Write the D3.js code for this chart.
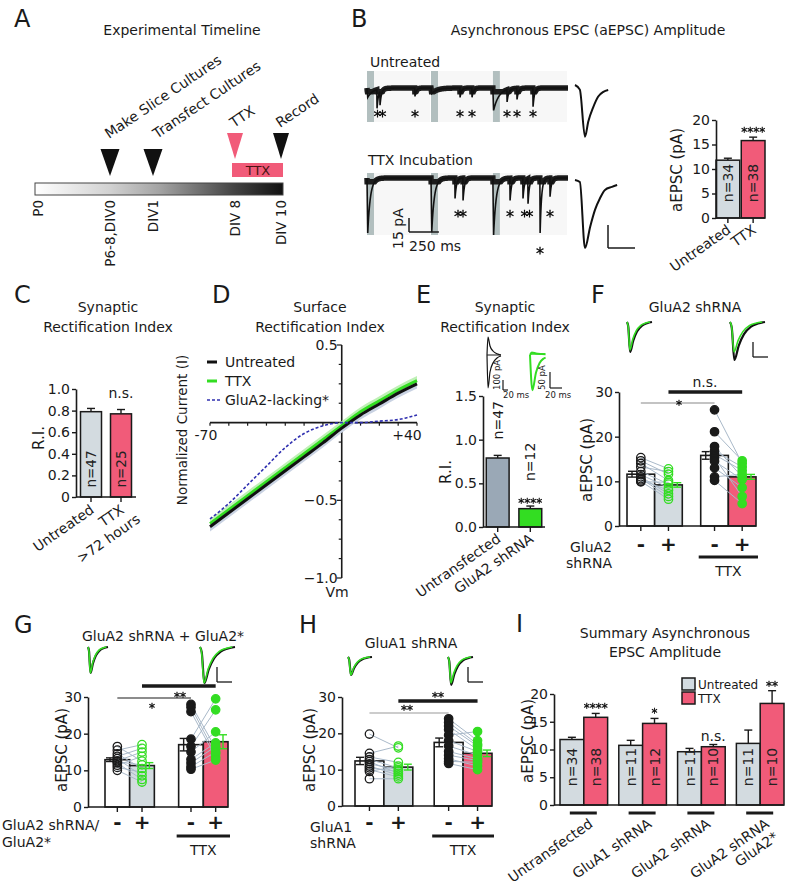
<!DOCTYPE html>
<html>
<head>
<meta charset="utf-8">
<script src="https://cdn.jsdelivr.net/npm/d3@7"></script>
<style>
  body { margin: 0; background: #fff; }
  svg { display: block; font-family: "DejaVu Sans", sans-serif; }
</style>
</head>
<body>
<svg width="790" height="888"></svg>
<script>
// ---- A: timeline ----
const timelineLabels = ['P0', 'P6-8,DIV0', 'DIV1', 'DIV 8', 'DIV 10'];
const timelineDays = [-7, 0, 1, 8, 10];
const timelineEvents = ['Make Slice Cultures', 'Transfect Cultures', 'TTX', 'Record'];
const timelineEventDays = [0, 1, 8, 10];

// ---- B: example traces (ms, pA) ----
const sweepOnsets = [0, 535, 1052];
const untreatedStimAmp = [10, 6, 24];
const ttxStimAmp = [59, 58, 61];
const untreatedEvents = [[84, 20], [109, 15], [401, 9], [778, 10], [878, 10], [1171, 13], [1254, 12], [1388, 20]];
const ttxEvents = [[736, 22], [803, 24], [1196, 24], [1304, 22], [1346, 27], [1447, 59], [1530, 20]];
const untreatedAvg = [[0, 0], [1.8, -2], [3.7, -22.5], [4.9, -16], [6.8, -9.5], [8.6, -5], [10.5, -3], [12.3, -2.2]];
const ttxAvg = [[0, 0], [1.8, -0.9], [3.7, -29.6], [5.6, -20.4], [7.4, -13], [9.3, -7.8], [11.1, -4.3], [13.7, -3], [15.6, -2.2]];
const bGroups = [['Untreated'], ['TTX']];
const bMeans = [11.8, 15.8];
const bSem = [0.4, 0.7];
const bN = ['n=34', 'n=38'];

// ---- C ----
const cGroups = [['Untreated'], ['TTX', '>72 hours']];
const cMeans = [0.79, 0.77];
const cSem = [0.03, 0.04];
const cN = ['n=47', 'n=25'];

// ---- D: I-V curves ----
const dVm = [-70, -60, -50, -40, -30, -20, -10, 0, 10, 20, 30, 40];
const dUntreated = [-0.67, -0.58, -0.49, -0.40, -0.31, -0.22, -0.13, -0.035, 0.05, 0.12, 0.19, 0.25];
const dTTX = [-0.65, -0.56, -0.47, -0.38, -0.29, -0.20, -0.11, -0.02, 0.07, 0.14, 0.21, 0.27];
const dLacking = [-0.62, -0.52, -0.40, -0.28, -0.16, -0.07, -0.02, 0, 0, 0.01, 0.02, 0.05];
const dLegend = ['Untreated', 'TTX', 'GluA2-lacking*'];

// ---- E ----
const eGroups = [['Untransfected'], ['GluA2 shRNA']];
const eMeans = [0.79, 0.21];
const eSem = [0.03, 0.03];
const eN = ['n=47', 'n=12'];
const eBlackIn = [[0, 0], [4, -330], [12, -170], [24, -80], [40, -30], [56, -10]];
const eBlackOut = [[0, 0], [4, 180], [12, 90], [24, 40], [40, 12], [56, 0]];
const eGreenIn = [[0, 0], [4, -110], [10, -55], [16, -25], [22, -12], [26, -8]];
const eGreenOut = [[0, 0], [3, 8], [10, 5], [20, 3], [26, 2]];

// ---- F / G / H: paired aEPSC ----
const epscShape = [[0, 0], [1, -0.15], [2.5, -1], [5, -0.62], [8, -0.32], [12, -0.12], [16, -0.04], [20, 0]];
const fMeans = [11.6, 9.2, 15.8, 11.0];
const fSem = [0.65, 0.5, 0.85, 0.55];
const fPairsUntreated = [[15.3, 12.8], [14.6, 11.6], [14.0, 10.2], [13.2, 12.2], [12.2, 9.4], [11.5, 8.6], [11.0, 7.2], [10.6, 6.6], [10.3, 8.0], [10.0, 6.0], [9.9, 9.8]];
const fPairsTTX = [[26.0, 14.0], [21.1, 14.6], [17.8, 11.0], [16.8, 13.2], [16.0, 12.4], [15.3, 6.6], [14.5, 10.4], [13.0, 8.6], [11.0, 11.6], [10.2, 5.0]];
const fSig = [['*', 0, 2], ['n.s.', 1, 3]];
const fInsetAmps = [[30, 28], [38, 30]];

const gMeans = [12.9, 11.3, 17.0, 17.8];
const gSem = [0.5, 0.8, 1.7, 1.9];
const gPairsUntreated = [[16.5, 12.5], [15.5, 17.0], [14.5, 10.5], [13.8, 16.0], [13.2, 8.5], [12.6, 15.0], [12.3, 11.5], [12.0, 7.5], [11.4, 13.8], [10.8, 9.5], [10.0, 6.8]];
const gPairsTTX = [[28.0, 16.0], [27.2, 14.5], [26.0, 13.5], [18.5, 29.5], [16.5, 26.5], [15.0, 20.5], [13.0, 17.5], [12.0, 16.5], [11.0, 15.0], [10.3, 12.8]];
const gSig = [['**', 1, 3], ['*', 0, 2]];
const gInsetAmps = [[26, 26], [36, 36]];

const hMeans = [12.4, 10.7, 17.5, 14.5];
const hSem = [1.0, 0.8, 1.2, 0.9];
const hPairsUntreated = [[19.8, 16.0], [14.5, 16.5], [13.5, 12.0], [12.8, 10.5], [12.2, 9.0], [11.6, 10.0], [11.0, 8.5], [10.5, 9.5], [10.0, 8.0], [9.5, 11.0], [7.5, 7.5]];
const hPairsTTX = [[24, 18], [23, 17], [22, 16.5], [21, 15.5], [19.5, 20.5], [18, 15], [16.5, 14], [15, 13], [14, 12.5], [13, 11], [12.3, 12], [11.7, 10]];
const hSig = [['**', 1, 3], ['**', 0, 2]];
const hInsetAmps = [[18, 18], [28, 26]];

// ---- I: summary ----
const iGroups = [['Untransfected'], ['GluA1 shRNA'], ['GluA2 shRNA'], ['GluA2 shRNA', 'GluA2*']];
const iUntreated = [11.8, 10.75, 9.6, 11.1];
const iTTX = [15.8, 14.7, 10.5, 18.3];
const iUntreatedSem = [0.4, 0.9, 0.6, 2.4];
const iTTXSem = [0.7, 0.9, 0.4, 2.3];
const iNUntreated = ['n=34', 'n=11', 'n=11', 'n=11'];
const iNTTX = ['n=38', 'n=12', 'n=10', 'n=10'];
const iSig = ['****', '*', 'n.s.', '**'];
const iLegend = ['Untreated', 'TTX'];

// ---- styles ----
const INK = '#1a1a1a';
const RED = '#f15b79';
const GRAY = '#d3dbe0';
const GREEN = '#33dd22';
const SLATE = '#a9b9c9';
const FONT = '"DejaVu Sans", sans-serif';

const svg = d3.select('svg');
const defs = svg.append('defs');
// identity filter: renders the asterisks off-screen in plain grey-scale
defs.append('filter').attr('id', 'flat').append('feOffset').attr('dx', 0).attr('dy', 0);

function txt(x, y, s, o = {}) {
  const t = svg.append('text')
    .attr('x', x).attr('y', y)
    .attr('font-size', o.size || 13.5)
    .attr('text-anchor', o.anchor || 'start')
    .attr('fill', o.fill || INK)
    .text(s);
  if (o.bold) t.attr('font-weight', 'bold');
  if (o.dy) t.attr('dy', o.dy);
  if (o.rot) t.attr('transform', `rotate(${o.rot},${x},${y})`);
  return t;
}

function ln(x1, y1, x2, y2, o = {}) {
  return svg.append('line')
    .attr('x1', x1).attr('y1', y1).attr('x2', x2).attr('y2', y2)
    .attr('stroke', o.stroke || INK).attr('stroke-width', o.w || 1.5);
}

function rotLabel(x, y, lines, o = {}) {
  const g = svg.append('g').attr('transform', `translate(${x},${y}) rotate(${o.rot || -35})`);
  lines.forEach((s, i) => {
    g.append('text')
      .attr('x', i ? (o.dx2 || 0) : 0).attr('y', i * (o.lh || 15))
      .attr('text-anchor', 'end').attr('font-size', o.size || 13.5)
      .attr('fill', INK).text(s);
  });
}

function leftAxis(x, y, ticks, fmt, size) {
  const g = svg.append('g')
    .attr('transform', `translate(${x},0)`)
    .call(d3.axisLeft(y).tickValues(ticks).tickFormat(fmt).tickSize(4).tickSizeOuter(0).tickPadding(2));
  g.attr('font-family', FONT).attr('font-size', size || 14);
  g.select('.domain').attr('stroke', INK).attr('stroke-width', 1.6);
  g.selectAll('.tick line').attr('stroke', INK).attr('stroke-width', 1.4);
  g.selectAll('.tick text').attr('fill', INK);
  return g;
}

function errBar(x, y0, y1, color) {
  ln(x, y0, x, y1, { stroke: color, w: 1.4 });
  ln(x - 4, y1, x + 4, y1, { stroke: color, w: 1.4 });
}

function stars(x, yCenter, s, size = 12, spacing = 0) {
  const t = txt(x, yCenter + size * 0.58, s, { size, anchor: 'middle', fill: '#000' })
    .attr('stroke', '#000').attr('stroke-width', 0.3).attr('filter', 'url(#flat)');
  if (spacing) t.attr('letter-spacing', spacing);
  return t;
}

// simple two-bar chart (B, C, E)
function simpleBars(o) {
  const x = d3.scaleBand().domain(d3.range(o.means.length)).range([o.x0, o.x1])
    .paddingInner(o.pi).paddingOuter(o.po);
  const y = o.y;
  const bw = x.bandwidth();
  o.means.forEach((m, i) => {
    const cx = x(i) + bw / 2;
    errBar(cx, y(m), y(m + o.sems[i]), INK);
    svg.append('rect')
      .attr('x', x(i)).attr('y', y(m)).attr('width', bw).attr('height', y(0) - y(m))
      .attr('fill', o.fills[i]).attr('stroke', INK).attr('stroke-width', 1.5);
    ln(cx, y(0), cx, y(0) + 5, { w: 1.4 });
  });
  ln(o.axisX, y(0), o.x1 + (o.tail || 0), y(0), { w: 1.6 });
  leftAxis(o.axisX, y, o.ticks, o.fmt);
  return x;
}

// ======== Panel letters ========
[['A', 14, 27], ['B', 351, 27], ['C', 14, 303], ['D', 212, 303], ['E', 416, 303],
 ['F', 591, 303], ['G', 14, 633], ['H', 299, 633], ['I', 516, 632]]
  .forEach(([l, x, y]) => txt(x, y, l, { size: 24 }));

// ======== A ========
txt(182, 35, 'Experimental Timeline', { anchor: 'middle', size: 14 });
const tlX = d3.scaleLinear().domain(timelineDays).range([38, 110, 153, 235, 281]);
const grad = defs.append('linearGradient').attr('id', 'tlGrad');
[[0, '#ffffff'], [0.3, '#d2d2d2'], [0.5, '#a4a4a4'], [0.8, '#444444'], [1, '#111111']]
  .forEach(([off, c]) => grad.append('stop').attr('offset', off).attr('stop-color', c));
svg.append('rect').attr('x', 35).attr('y', 183).attr('width', 248).attr('height', 12)
  .attr('fill', 'url(#tlGrad)').attr('stroke', '#444').attr('stroke-width', 1);
timelineLabels.forEach((l, i) => {
  txt(tlX(timelineDays[i]) + 5, 200, l, { anchor: 'end', rot: -90, size: 13.5 });
});
svg.append('rect').attr('x', tlX(8) - 3).attr('y', 163).attr('width', tlX(10) - tlX(8) + 5).attr('height', 14)
  .attr('fill', RED);
txt((tlX(8) + tlX(10)) / 2, 175, 'TTX', { anchor: 'middle', fill: '#4a1414', size: 13 });
timelineEvents.forEach((l, i) => {
  const d = timelineEventDays[i];
  const cx = tlX(d);
  const late = d >= 8;
  const top = late ? 133 : 149;
  const w = late ? 16 : 19, h = late ? 26 : 27;
  svg.append('path')
    .attr('d', `M${cx - w / 2},${top}L${cx + w / 2},${top}L${cx},${top + h}Z`)
    .attr('fill', l === 'TTX' ? RED : '#111');
  txt(cx - 1 + (i === 1 ? 5 : 0), top - (late ? 5 : 10), l, { rot: -34, size: 14 });
});

// ======== B ========
txt(588, 35, 'Asynchronous EPSC (aEPSC) Amplitude', { anchor: 'middle', size: 14 });
txt(370, 67, 'Untreated', { size: 14 });
txt(368, 165, 'TTX Incubation', { size: 14 });

const tB = d3.scaleLinear().domain([0, 1680]).range([367, 568]);
function kernel(dt, rise, decay) {
  if (dt < 0) return 0;
  return dt < rise ? dt / rise : Math.exp(-(dt - rise) / decay);
}
function buildTrace(stimAmp, events, stimDecay) {
  const pts = [];
  for (let t = 0; t <= 1680; t += 1) {
    let v = 0;
    sweepOnsets.forEach((s, i) => { v -= stimAmp[i] * kernel(t - s, 6, stimDecay); });
    events.forEach(([te, a]) => { v -= a * kernel(t - te + 2, 2, 12); });
    pts.push([t, v]);
  }
  return pts;
}
function drawTrace(base, stimAmp, events, stimDecay, barTop, barBot, starMin) {
  const y = d3.scaleLinear().domain([0, -60]).range([base, base + 56]);
  sweepOnsets.forEach((s, i) => {
    const end = i < sweepOnsets.length - 1 ? sweepOnsets[i + 1] : 1680;
    svg.append('rect').attr('x', tB(s)).attr('y', barTop).attr('width', tB(end) - tB(s) - 1).attr('height', barBot - barTop)
      .attr('fill', '#f7f7f7');
    svg.append('rect').attr('x', tB(s)).attr('y', barTop).attr('width', 7).attr('height', barBot - barTop)
      .attr('fill', '#b2bfbf');
  });
  const pts = buildTrace(stimAmp, events, stimDecay);
  const line = d3.line().x(d => tB(d[0])).y(d => y(d[1]));
  svg.append('path').attr('d', line(pts.map(([t, v]) => [t, Math.max(v, -4)])))
    .attr('fill', 'none').attr('stroke', '#1c1c1c').attr('stroke-width', 5.5);
  svg.append('path').attr('d', line(pts))
    .attr('fill', 'none').attr('stroke', '#111').attr('stroke-width', 1.6);
  // group asterisks of events that sit close together
  const groups = [];
  events.forEach(([te, a]) => {
    const depth = y(-a) - base;
    const yc = base + (depth > 40 ? depth + 17 : starMin);
    const last = groups[groups.length - 1];
    if (last && tB(te) - last.x1 < 9 && last.yc === yc) { last.n += 1; last.x1 = tB(te); }
    else groups.push({ x0: tB(te), x1: tB(te), yc, n: 1 });
  });
  groups.forEach(g => stars((g.x0 + g.x1) / 2, g.yc, '*'.repeat(g.n), 16, g.n > 1 ? -3 : 0));
}
drawTrace(88, untreatedStimAmp, untreatedEvents, 45, 71, 122, 25);
drawTrace(178, ttxStimAmp, ttxEvents, 22, 173, 235, 35);

// scale bar 15 pA / 250 ms
const pApx = 56 / 60;
ln(409, 232 - 15 * pApx, 409, 232);
ln(409, 232, tB(250) - tB(0) + 409, 232);
txt(403, 249, '15 pA', { rot: -90, size: 14 });
txt(409, 251, '250 ms', { size: 14 });

// averages
const avgT = d3.scaleLinear().domain([0, 10]).range([0, 27]);
const avgA = d3.scaleLinear().domain([0, 10]).range([0, 23]);
[[untreatedAvg, 85], [ttxAvg, 180]].forEach(([data, base]) => {
  svg.append('path')
    .attr('d', d3.line().curve(d3.curveMonotoneX).x(d => 575 + avgT(d[0])).y(d => base - avgA(d[1]))(data))
    .attr('fill', 'none').attr('stroke', '#111').attr('stroke-width', 2);
});
ln(608, 248 - avgA(10), 608, 248);
ln(608, 248, 608 + avgT(10), 248);

// bar chart
const bY = d3.scaleLinear().domain([0, 20]).range([218, 120]);
const bX = simpleBars({ x0: 716, x1: 765, pi: 0.06, po: 0, axisX: 716, y: bY, means: bMeans, sems: bSem,
  fills: [GRAY, RED], ticks: [0, 5, 10, 15, 20], fmt: d3.format('d') });
bN.forEach((n, i) => txt(bX(i) + bX.bandwidth() / 2, 183, n, { rot: -90, anchor: 'middle', dy: '0.36em', size: 14, fill: '#222' }));
stars(bX(1) + bX.bandwidth() / 2, bY(bMeans[1] + bSem[1]) - 8, '****');
txt(677, 170, 'aEPSC (pA)', { rot: -90, anchor: 'middle', dy: '0.36em', size: 15 });
bGroups.forEach((g, i) => rotLabel(bX(i) + bX.bandwidth() / 2 + 4, 232, g, { size: 14 }));

// ======== C ========
txt(108, 312, 'Synaptic', { anchor: 'middle', size: 14 });
txt(108, 332, 'Rectification Index', { anchor: 'middle', size: 14 });
const cY = d3.scaleLinear().domain([0, 1]).range([497, 389]);
const cX = simpleBars({ x0: 76, x1: 136, pi: 0.3, po: 0.15, axisX: 76, y: cY, means: cMeans, sems: cSem,
  fills: [GRAY, RED], ticks: [0, 0.2, 0.4, 0.6, 0.8, 1.0], fmt: d => d === 0 ? '0' : d3.format('.1f')(d) });
cN.forEach((n, i) => txt(cX(i) + cX.bandwidth() / 2, 469, n, { rot: -90, anchor: 'middle', dy: '0.36em', size: 13.5, fill: '#222' }));
txt(cX(1) + cX.bandwidth() / 2, cY(cMeans[1] + cSem[1]) - 12, 'n.s.', { anchor: 'middle', size: 14 });
txt(39, 438, 'R.I.', { rot: -90, anchor: 'middle', dy: '0.36em', size: 15 });
cGroups.forEach((g, i) => rotLabel(cX(i) + cX.bandwidth() / 2 + 4, 512, g, { dx2: 8, lh: 17, size: 14 }));

// ======== D ========
txt(320, 312, 'Surface', { anchor: 'middle', size: 14 });
txt(320, 332, 'Rectification Index', { anchor: 'middle', size: 14 });
const dX = d3.scaleLinear().domain([-70, 40]).range([210, 417]);
const dY = d3.scaleLinear().domain([-1, 0.5]).range([578, 345]);
ln(dX(0), dY(0.5), dX(0), dY(-1), { w: 1.6 });
d3.range(-1, 0.5001, 0.125).forEach(v => {
  const major = Math.abs(v * 2 - Math.round(v * 2)) < 1e-6;
  ln(dX(0) - (major ? 5 : 3), dY(v), dX(0), dY(v), { w: 1.2 });
});
[0.5, -0.5, -1.0].forEach(v => txt(dX(0) - 4, dY(v) + 5, d3.format('.1f')(v), { anchor: 'end', size: 14 }));
ln(dX(-70), dY(0), dX(40), dY(0), { w: 1.6 });
d3.range(-70, 41, 10).forEach(v => ln(dX(v), dY(0), dX(v), dY(0) + 3, { w: 1.2 }));
txt(dX(-70) - 4, dY(0) + 17, '-70', { anchor: 'middle', size: 14 });
txt(dX(40) - 10, dY(0) + 17, '+40', { anchor: 'middle', size: 14 });
txt(337, 597, 'Vm', { anchor: 'middle', size: 14 });
txt(182, 430, 'Normalized Current (I)', { rot: -90, anchor: 'middle', dy: '0.36em', size: 13.5 });

const band = d3.area().x((d, i) => dX(dVm[i])).curve(d3.curveMonotoneX);
svg.append('path').attr('d', band.y0(d => dY(d - 0.03)).y1(d => dY(d + 0.01))(dUntreated)).attr('fill', '#c9d2e2');
svg.append('path').attr('d', band.y0(d => dY(d - 0.01)).y1(d => dY(d + 0.03))(dTTX)).attr('fill', '#bff0b6');
const ivLine = d3.line().x((d, i) => dX(dVm[i])).y(d => dY(d)).curve(d3.curveMonotoneX);
svg.append('path').attr('d', ivLine(dTTX)).attr('fill', 'none').attr('stroke', GREEN).attr('stroke-width', 3);
svg.append('path').attr('d', ivLine(dUntreated)).attr('fill', 'none').attr('stroke', '#111').attr('stroke-width', 3);
svg.append('path').attr('d', ivLine(dLacking)).attr('fill', 'none').attr('stroke', '#3030b0')
  .attr('stroke-width', 1.6).attr('stroke-dasharray', '3,2');
const legStyles = [['#111', 3, null], [GREEN, 3, null], ['#3030b0', 1.6, '3,2']];
dLegend.forEach((l, i) => {
  const yy = 362 + i * 19;
  ln(207, yy, i === 2 ? 221 : 217, yy, { stroke: legStyles[i][0], w: legStyles[i][1] })
    .attr('stroke-dasharray', legStyles[i][2]);
  txt(225, yy + 5, l, { size: 14 });
});

// ======== E ========
txt(505, 312, 'Synaptic', { anchor: 'middle', size: 14 });
txt(505, 332, 'Rectification Index', { anchor: 'middle', size: 14 });
const eY = d3.scaleLinear().domain([0, 1.5]).range([527, 396]);
const eX = simpleBars({ x0: 483, x1: 545, pi: 0.3, po: 0.1, axisX: 483, y: eY, means: eMeans, sems: eSem,
  fills: ['#9aa8b6', GREEN], ticks: [0, 0.5, 1.0, 1.5], fmt: d3.format('.1f') });
[16, 25].forEach((off, i) => {
  txt(eX(i) + eX.bandwidth() / 2, eY(eMeans[i] + eSem[i]) - off, eN[i], { rot: -90, dy: '0.36em', size: 14 });
});
stars(eX(1) + eX.bandwidth() / 2, eY(eMeans[1] + eSem[1]) - 6, '****');
txt(446, 472, 'R.I.', { rot: -90, anchor: 'middle', dy: '0.36em', size: 15 });
eGroups.forEach((g, i) => rotLabel(eX(i) + eX.bandwidth() / 2 + 4, 541, g, { size: 14 }));
function insetPath(data, x0, y0, sx, sy, color, w) {
  svg.append('path')
    .attr('d', d3.line().curve(d3.curveMonotoneX).x(d => x0 + d[0] * sx).y(d => y0 - d[1] * sy)(data))
    .attr('fill', 'none').attr('stroke', color).attr('stroke-width', w);
}
insetPath(eBlackOut, 487, 355, 0.25, 0.1, '#111', 1.2);
insetPath(eBlackIn, 487, 355, 0.25, 0.1, '#111', 1.2);
ln(487, 355, 501, 355, { w: 1 });
insetPath(eGreenOut, 530, 355, 0.6, 0.32, GREEN, 2);
insetPath(eGreenIn, 530, 355, 0.6, 0.32, GREEN, 2);
ln(530, 354, 545, 354, { stroke: GREEN, w: 1.5 });
ln(503, 380, 503, 390, { w: 1.2 }); ln(503, 390, 508, 390, { w: 1.2 });
txt(500, 390, '100 pA', { rot: -90, size: 8.5 });
txt(503, 398, '20 ms', { size: 8.5 });
ln(550, 372, 550, 388, { w: 1.2 }); ln(550, 388, 562, 388, { w: 1.2 });
txt(545, 390, '50 pA', { rot: -90, size: 8.5 });
txt(545, 398, '20 ms', { size: 8.5 });

// ======== F / G / H ========
function inset(x0, y0, width, amps) {
  const sx = width / 20;
  [['#111', 2.2], [GREEN, 1.6]].forEach(([c, w], k) => {
    svg.append('path')
      .attr('d', d3.line().curve(d3.curveMonotoneX).x(d => x0 + d[0] * sx * (k ? 0.92 : 1)).y(d => y0 - d[1] * amps[k])(epscShape))
      .attr('fill', 'none').attr('stroke', c).attr('stroke-width', w);
  });
}

function pairedPanel(o) {
  const y = o.y;
  const outer = d3.scaleBand().domain([0, 1]).range([o.x0, o.x1]).paddingInner(o.gap);
  const inner = d3.scaleBand().domain([0, 1]).range([0, outer.bandwidth()]);
  const bw = inner.bandwidth();
  const bx = i => outer(Math.floor(i / 2)) + inner(i % 2);
  const cx = i => bx(i) + bw / 2;
  const fills = ['#fff', GRAY, '#fff', RED];
  const dotColor = [INK, GREEN, INK, GREEN];

  o.means.forEach((m, i) => {
    svg.append('rect').attr('x', bx(i)).attr('y', y(m)).attr('width', bw).attr('height', y(0) - y(m))
      .attr('fill', fills[i]).attr('stroke', INK).attr('stroke-width', 1.6);
    ln(cx(i), y(0), cx(i), y(0) + 5, { w: 1.4 });
  });
  ln(o.axisX, y(0), o.x1, y(0), { w: 1.6 });
  leftAxis(o.axisX, y, [0, 10, 20, 30], d3.format('d'));

  o.pairs.forEach((pairs, gi) => {
    const a = gi * 2, b = gi * 2 + 1;
    pairs.forEach(([p, q]) => ln(cx(a), y(p), cx(b), y(q), { stroke: SLATE, w: 1 }));
    [a, b].forEach((bar, k) => {
      pairs.forEach(pr => {
        svg.append('circle').attr('cx', cx(bar)).attr('cy', y(pr[k])).attr('r', 4.2)
          .attr('fill', gi === 1 ? dotColor[bar] : 'none')
          .attr('stroke', dotColor[bar]).attr('stroke-width', 1.3);
      });
    });
  });
  o.means.forEach((m, i) => {
    const ex = fills[i] === '#fff' ? bx(i) + 5 : bx(i) + bw - 5;
    const c = dotColor[i];
    ln(ex, y(m - o.sems[i]), ex, y(m + o.sems[i]), { stroke: c, w: 1.4 });
    ln(ex - 4, y(m - o.sems[i]), ex + 4, y(m - o.sems[i]), { stroke: c, w: 1.4 });
    ln(ex - 4, y(m + o.sems[i]), ex + 4, y(m + o.sems[i]), { stroke: c, w: 1.4 });
  });

  o.sig.forEach(([label, a, b], k) => {
    const L = o.sigLayout[k];
    ln(cx(a), L.y, cx(b), L.y, { stroke: L.color || INK, w: L.thick ? 3.5 : 1.2 });
    if (label === 'n.s.') txt(L.lx, L.ly, label, { anchor: 'middle', size: 14 });
    else stars(L.lx, L.ly, label);
  });

  ['-', '+', '-', '+'].forEach((s, i) => txt(cx(i), o.signY, s, { anchor: 'middle', bold: true, size: 20 }));
  ln(bx(2) - 2, o.ttxY, bx(3) + bw + 2, o.ttxY, { w: 3 });
  txt((bx(2) + bx(3) + bw) / 2, o.ttxY + 19, 'TTX', { anchor: 'middle', size: 14 });
  txt(o.yLabel[0], o.yLabel[1], 'aEPSC (pA)', { rot: -90, anchor: 'middle', dy: '0.36em', size: 15 });
  o.rowLabel.forEach(([s, x, yy, anchor]) => txt(x, yy, s, { anchor, size: 14 }));
  txt(o.title[1], o.title[2], o.title[0], { anchor: 'middle', size: 14 });
  inset(o.insets[0][0], o.insets[0][1], o.insets[0][2], o.insetAmps[0]);
  inset(o.insets[1][0], o.insets[1][1], o.insets[1][2], o.insetAmps[1]);
  const sb = o.scaleBar;
  ln(sb[0], sb[1], sb[0], sb[1] + 15, { w: 1.3 });
  ln(sb[0], sb[1] + 15, sb[0] + 15, sb[1] + 15, { w: 1.3 });
}

pairedPanel({
  axisX: 619, x0: 627, x1: 756, gap: 0.25,
  y: d3.scaleLinear().domain([0, 30]).range([526, 392]),
  means: fMeans, sems: fSem, pairs: [fPairsUntreated, fPairsTTX], sig: fSig,
  sigLayout: [{ y: 403, color: '#888', lx: 679, ly: 402 }, { y: 392, thick: true, lx: 705, ly: 387 }],
  signY: 551, ttxY: 557, yLabel: [587, 460],
  rowLabel: [['GluA2', 612, 552, 'end'], ['shRNA', 612, 568, 'end']],
  title: ['GluA2 shRNA', 695, 312],
  insets: [[627, 322, 25], [730, 322, 35]], insetAmps: fInsetAmps, scaleBar: [753, 342]
});

pairedPanel({
  axisX: 88, x0: 105, x1: 228, gap: 0.33,
  y: d3.scaleLinear().domain([0, 30]).range([807, 697]),
  means: gMeans, sems: gSem, pairs: [gPairsUntreated, gPairsTTX], sig: gSig,
  sigLayout: [{ y: 686, thick: true, lx: 180, ly: 694 }, { y: 698, lx: 152, ly: 705 }],
  signY: 829, ttxY: 836, yLabel: [62, 750],
  rowLabel: [['GluA2 shRNA/', 2, 830, 'start'], ['GluA2*', 2, 847, 'start']],
  title: ['GluA2 shRNA + GluA2*', 163, 641],
  insets: [[88, 647, 20], [200, 647, 35]], insetAmps: gInsetAmps, scaleBar: [217, 667]
});

pairedPanel({
  axisX: 342, x0: 355, x1: 492, gap: 0.27,
  y: d3.scaleLinear().domain([0, 30]).range([806, 697]),
  means: hMeans, sems: hSem, pairs: [hPairsUntreated, hPairsTTX], sig: hSig,
  sigLayout: [{ y: 701, thick: true, lx: 438, ly: 694 }, { y: 713, color: '#999', lx: 407, ly: 707 }],
  signY: 829, ttxY: 836, yLabel: [310, 750],
  rowLabel: [['GluA1', 310, 832, 'start'], ['shRNA', 310, 848, 'start']],
  title: ['GluA1 shRNA', 411, 648],
  insets: [[348, 657, 24], [448, 657, 25]], insetAmps: hInsetAmps, scaleBar: [468, 667]
});

// ======== I ========
txt(665, 638, 'Summary Asynchronous', { anchor: 'middle', size: 14 });
txt(665, 657, 'EPSC Amplitude', { anchor: 'middle', size: 14 });
const iY = d3.scaleLinear().domain([0, 20]).range([805, 694]);
const iX = d3.scaleBand().domain(d3.range(iGroups.length)).range([560, 784]).paddingInner(0.19);
const iSub = d3.scaleBand().domain([0, 1]).range([0, iX.bandwidth()]);
iGroups.forEach((g, i) => {
  const series = [[iUntreated[i], iUntreatedSem[i], GRAY, iNUntreated[i]], [iTTX[i], iTTXSem[i], RED, iNTTX[i]]];
  series.forEach(([m, s, c, n], k) => {
    const x = iX(i) + iSub(k), w = iSub.bandwidth(), cx = x + w / 2;
    errBar(cx, iY(m), iY(m + s), INK);
    svg.append('rect').attr('x', x).attr('y', iY(m)).attr('width', w).attr('height', iY(0) - iY(m))
      .attr('fill', c).attr('stroke', INK).attr('stroke-width', 1.5);
    txt(cx, 767, n, { rot: -90, anchor: 'middle', dy: '0.36em', size: 14, fill: '#222' });
  });
  const tx = iX(i) + iSub(1) + iSub.bandwidth() / 2;
  const top = iY(iTTX[i] + iTTXSem[i]);
  if (iSig[i] === 'n.s.') txt(tx, top - 4, iSig[i], { anchor: 'middle', size: 14 });
  else stars(tx, top - 8, iSig[i]);
  const gc = iX(i) + iX.bandwidth() / 2;
  ln(gc - 14, 813, gc + 13, 813, { w: 3 });
  rotLabel(gc + 10, 826, g, { lh: 16, size: 14 });
});
ln(554, iY(0), 784, iY(0), { w: 1.6 });
leftAxis(554, iY, [0, 5, 10, 15, 20], d3.format('d'));
txt(528, 741, 'aEPSC (pA)', { rot: -90, anchor: 'middle', dy: '0.36em', size: 15 });
iLegend.forEach((l, i) => {
  svg.append('rect').attr('x', 682).attr('y', 678 + i * 14).attr('width', 13).attr('height', 12)
    .attr('fill', i ? RED : GRAY).attr('stroke', INK).attr('stroke-width', 1.5);
  txt(698, 689 + i * 14, l, { size: 12 });
});
</script>
</body>
</html>
